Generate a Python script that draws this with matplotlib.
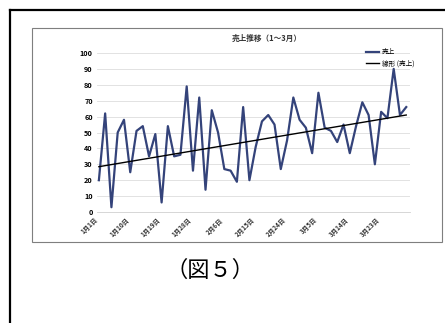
import matplotlib
matplotlib.use("Agg")
import matplotlib.pyplot as plt
from matplotlib.lines import Line2D
from matplotlib.patches import Rectangle
import numpy as np

plt.rcParams['font.family'] = ['Noto Sans CJK JP', 'DejaVu Sans']

# 売上データ (読み取り値)
sales = [20, 62, 3, 50, 58, 25, 51, 54, 35, 49,
         6, 54, 35, 36, 79, 26, 72, 14, 64, 50,
         27, 26, 19, 66, 20, 41, 57, 61, 55, 27,
         45, 72, 58, 53, 37, 75, 53, 51, 44, 55,
         37, 54, 69, 61, 30, 63, 59, 90, 61, 66]
# 線形近似線の両端 (読み取り値)
trend_ends = [28.5, 61]
tick_labels = ["1月1日", "1月10日", "1月19日", "1月28日", "2月6日",
               "2月15日", "2月24日", "3月5日", "3月14日", "3月23日"]
title = "売上推移（1～3月）"
caption = "（図５）"

x = np.arange(len(sales))

fig = plt.figure(figsize=(4.45, 3.23), dpi=100)

# ページ枠
fig.add_artist(Line2D([10 / 445, 1.0], [1 - 10 / 323, 1 - 10 / 323],
                      transform=fig.transFigure, color="black", lw=1.6))
fig.add_artist(Line2D([10 / 445, 10 / 445], [0, 1 - 10 / 323],
                      transform=fig.transFigure, color="black", lw=1.6))

# 図の枠
fig.add_artist(Rectangle((32 / 445, 1 - 242 / 323), 410 / 445, 214 / 323,
                         transform=fig.transFigure, fill=False,
                         edgecolor="#7f7f7f", lw=0.8))

ax = fig.add_axes([97 / 445, 1 - 212 / 323, 313 / 445, 159 / 323])
ax.plot(x, sales, color="#34437a", lw=1.6, label="売上")
ax.plot([x[0], x[-1]], trend_ends, color="black", lw=1.0, label="線形 (売上)")

ax.set_xlim(-0.3, len(sales) - 0.4)
ax.set_ylim(0, 100)
ax.set_yticks(range(0, 101, 10))
ax.set_yticklabels(["0"] + [str(v) for v in range(10, 101, 10)],
                   fontsize=5.2, fontweight="bold")
ax.set_xticks(x[::5])
ax.set_xticklabels(tick_labels, rotation=45, ha="right", fontsize=4.6,
                   color="#333333", fontweight="bold")
ax.tick_params(length=0, pad=3)
ax.grid(axis="y", color="#dddddd", lw=0.6)
for s in ["top", "right", "left"]:
    ax.spines[s].set_visible(False)
ax.spines["bottom"].set_color("#d0d0d0")
ax.spines["bottom"].set_linewidth(0.6)

fig.text(267 / 445, 1 - 38 / 323, title, ha="center", va="center",
         fontsize=5.5, fontweight="bold", color="#333333")
fig.legend(loc="upper left", bbox_to_anchor=(360 / 445, 1 - 42 / 323),
           frameon=False, fontsize=4.8, handlelength=2.0,
           labelspacing=0.5, handletextpad=0.4)

fig.text(210 / 445, 1 - 270 / 323, caption, ha="center", va="center",
         fontsize=16)

fig.savefig("out.png", dpi=100)
